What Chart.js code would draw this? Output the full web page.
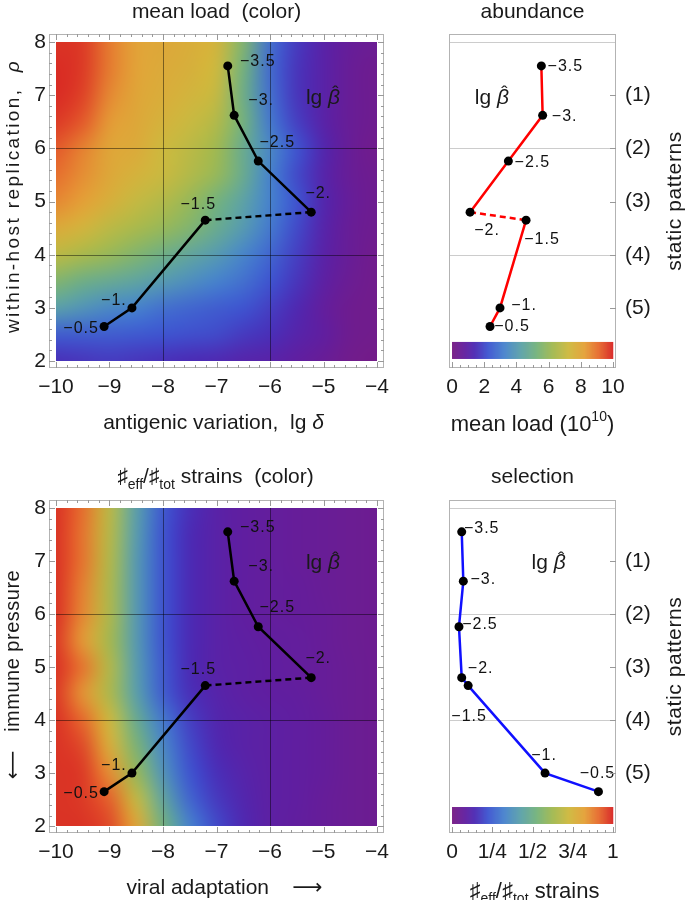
<!DOCTYPE html>
<html>
<head>
<meta charset="utf-8">
<script src="https://cdn.jsdelivr.net/npm/chart.js@4.4.1/dist/chart.umd.min.js"></script>
<style>
  body { margin: 0; background: #fff; }
  #wrap { position: relative; width: 685px; height: 900px; }
  canvas { position: absolute; }
</style>
</head>
<body>
<div id="wrap">
  <canvas id="load-map" width="410" height="440" style="left:0;top:0"></canvas>
  <canvas id="load-line" width="275" height="440" style="left:410px;top:0"></canvas>
  <canvas id="frac-map" width="410" height="460" style="left:0;top:440px"></canvas>
  <canvas id="frac-line" width="275" height="460" style="left:410px;top:440px"></canvas>
</div>
<script>
// points along the lg beta-hat path
const betaLabels = ['−3.5', '−3.', '−2.5', '−2.', '−1.5', '−1.', '−0.5'];
const lgDelta = [-6.79, -6.67, -6.22, -5.23, -7.21, -8.58, -9.10];
const rho = [7.55, 6.62, 5.76, 4.80, 4.65, 3.00, 2.65];
const meanLoad = [5.55, 5.63, 3.50, 1.12, 4.60, 2.98, 2.36];
const effFraction = [0.06, 0.07, 0.043, 0.06, 0.10, 0.578, 0.91];

// tick values / labels
const xTicks = [-10, -9, -8, -7, -6, -5, -4];
const yTicks = [2, 3, 4, 5, 6, 7, 8];
const loadTicks = [0, 2, 4, 6, 8, 10];
const fracTicks = [0, 0.25, 0.5, 0.75, 1];
const fracTickLabels = ['0', '1/4', '1/2', '3/4', '1'];
const patternRho = [7, 6, 5, 4, 3];
const patternLabels = ['(1)', '(2)', '(3)', '(4)', '(5)'];

// background maps, rows from rho = 8 (top) down to rho = 2
const gridX = [-10, -9.5, -9, -8.5, -8, -7.5, -7, -6.5, -6, -5.5, -5, -4.5, -4];
const gridY = [8, 7.5, 7, 6.5, 6, 5.5, 5, 4.5, 4, 3.5, 3, 2.5, 2];
// mean load (10^10)
const loadGrid = [
  [9.8, 9.7, 8.8, 8.1, 7.9, 7.7, 7.4, 5.5, 2.8, 1.7, 1.0, 0.6, 0.4],
  [9.9, 9.7, 8.8, 8.1, 7.8, 7.6, 7.2, 5.2, 2.7, 1.6, 1.0, 0.5, 0.3],
  [9.9, 9.6, 8.6, 8.0, 7.7, 7.4, 7.0, 5.0, 2.8, 1.6, 1.0, 0.5, 0.3],
  [9.7, 9.3, 8.3, 7.9, 7.5, 7.1, 6.6, 5.2, 3.0, 1.8, 1.0, 0.5, 0.3],
  [9.3, 8.7, 8.0, 7.8, 7.2, 6.8, 6.2, 4.8, 3.4, 2.2, 1.2, 0.5, 0.2],
  [9.0, 8.5, 7.9, 7.5, 7.1, 6.6, 6.0, 4.8, 3.2, 2.0, 1.1, 0.5, 0.3],
  [8.6, 8.2, 7.6, 7.0, 6.6, 6.0, 5.2, 4.3, 3.2, 2.2, 1.2, 0.6, 0.3],
  [7.8, 7.4, 6.8, 6.4, 6.0, 5.5, 4.8, 4.0, 3.0, 2.0, 1.1, 0.5, 0.3],
  [6.8, 6.4, 6.0, 5.5, 5.0, 4.5, 4.0, 3.3, 2.6, 1.8, 1.0, 0.5, 0.2],
  [5.5, 5.0, 4.7, 4.4, 4.0, 3.6, 3.2, 2.8, 2.2, 1.6, 0.9, 0.4, 0.2],
  [4.2, 3.8, 3.4, 3.2, 2.8, 2.6, 2.4, 2.2, 1.8, 1.3, 0.7, 0.3, 0.2],
  [2.4, 2.4, 2.4, 2.3, 2.2, 2.1, 2.0, 1.7, 1.5, 1.1, 0.8, 0.3, 0.2],
  [1.5, 1.6, 1.7, 1.6, 1.5, 1.4, 1.3, 1.1, 1.0, 0.8, 0.5, 0.2, 0.1]
];
// effective / total strains
const fracGrid = [
  [0.98, 0.90, 0.68, 0.42, 0.23, 0.15, 0.10, 0.08, 0.07, 0.06, 0.05, 0.04, 0.035],
  [0.98, 0.89, 0.67, 0.41, 0.22, 0.14, 0.10, 0.08, 0.07, 0.06, 0.05, 0.04, 0.035],
  [0.98, 0.89, 0.66, 0.40, 0.22, 0.14, 0.10, 0.08, 0.07, 0.06, 0.05, 0.04, 0.035],
  [0.98, 0.87, 0.65, 0.40, 0.22, 0.14, 0.10, 0.08, 0.07, 0.065, 0.05, 0.04, 0.035],
  [0.98, 0.86, 0.65, 0.40, 0.22, 0.14, 0.10, 0.08, 0.07, 0.065, 0.055, 0.04, 0.035],
  [0.97, 0.83, 0.63, 0.40, 0.22, 0.14, 0.10, 0.085, 0.075, 0.07, 0.055, 0.04, 0.035],
  [0.98, 0.89, 0.66, 0.41, 0.23, 0.14, 0.10, 0.09, 0.08, 0.07, 0.06, 0.045, 0.035],
  [0.97, 0.84, 0.65, 0.42, 0.24, 0.15, 0.11, 0.09, 0.08, 0.075, 0.06, 0.045, 0.035],
  [0.98, 0.91, 0.72, 0.48, 0.30, 0.18, 0.12, 0.10, 0.09, 0.08, 0.065, 0.045, 0.035],
  [0.98, 0.95, 0.77, 0.54, 0.34, 0.20, 0.13, 0.10, 0.09, 0.08, 0.065, 0.045, 0.035],
  [0.98, 0.97, 0.85, 0.60, 0.38, 0.22, 0.15, 0.11, 0.09, 0.08, 0.065, 0.045, 0.035],
  [0.98, 0.97, 0.92, 0.70, 0.45, 0.26, 0.17, 0.12, 0.09, 0.08, 0.06, 0.045, 0.035],
  [0.98, 0.98, 0.95, 0.80, 0.52, 0.32, 0.20, 0.13, 0.09, 0.075, 0.06, 0.045, 0.035]
];

// label placement around each point (px), same order as betaLabels
const mapLabelOffsets = [[30, -4], [27, -15], [19, -19], [7, -19], [-7, -16], [-18, -7], [-23, 2]];
const loadLabelOffsets = [[24, 1], [22, 1], [24, 1], [17, 18], [16, 19], [24, -2], [22, 0]];
const fracLabelOffsets = [[20, -3], [20, -2], [21, -2], [19, -9], [1, 31], [-1, -17], [-1, -18]];

const FONT = '"Liberation Sans", "DejaVu Sans", sans-serif';
Chart.defaults.font.family = FONT;
Chart.defaults.color = '#1a1a1a';

// rainbow colour scheme, 0 = purple ... 1 = red
const cmapStops = [
  [0.00, [118, 27, 133]], [0.08, [96, 30, 160]], [0.14, [75, 42, 180]],
  [0.22, [62, 84, 208]], [0.32, [70, 130, 205]], [0.42, [90, 160, 170]],
  [0.52, [115, 178, 125]], [0.62, [160, 185, 80]], [0.72, [205, 185, 62]],
  [0.82, [228, 160, 55]], [0.91, [230, 105, 45]], [1.00, [215, 35, 35]]
];
function cmap(t) {
  t = Math.max(0, Math.min(1, t));
  for (let i = 1; i < cmapStops.length; i++) {
    const [t1, c1] = cmapStops[i];
    const [t0, c0] = cmapStops[i - 1];
    if (t <= t1) {
      const f = (t - t0) / (t1 - t0);
      return c0.map((c, k) => Math.round(c + (c1[k] - c) * f));
    }
  }
  return cmapStops[cmapStops.length - 1][1];
}

function minus(v) { return String(v).replace('-', '−'); }
function steps(a, b, d) {
  const out = [];
  for (let v = a; v <= b + 1e-9; v += d) out.push(+v.toFixed(4));
  return out;
}

function richText(ctx, parts, x, y, size, rotate, spacing) {
  ctx.save();
  ctx.translate(x, y);
  if (rotate) ctx.rotate(-Math.PI / 2);
  ctx.fillStyle = '#1a1a1a';
  ctx.textBaseline = 'alphabetic';
  ctx.textAlign = 'left';
  ctx.letterSpacing = (spacing || 0) + 'px';
  const fontOf = s => (s === 'i' || s === 'hat' ? 'italic ' : '') +
    Math.round(s === 'sub' || s === 'sup' ? size * 0.65 : size) + 'px ' + FONT;
  let w = 0;
  parts.forEach(([t, s]) => { ctx.font = fontOf(s); w += ctx.measureText(t).width; });
  let cx = -w / 2;
  const base = size * 0.35;
  parts.forEach(([t, s]) => {
    ctx.font = fontOf(s);
    const tw = ctx.measureText(t).width;
    let dy = 0;
    if (s === 'sub') dy = size * 0.25;
    if (s === 'sup') dy = -size * 0.42;
    ctx.fillText(t, cx, base + dy);
    if (s === 'hat') {
      ctx.font = Math.round(size * 0.9) + 'px ' + FONT;
      ctx.textAlign = 'center';
      ctx.fillText('ˆ', cx + tw * 0.62, base - size * 0.22);
      ctx.textAlign = 'left';
    }
    cx += tw;
  });
  ctx.restore();
}

function drawHeat(ctx, x, y, grid, vmax) {
  const ny = grid.length, nx = grid[0].length;
  const off = document.createElement('canvas');
  off.width = nx; off.height = ny;
  const octx = off.getContext('2d');
  const img = octx.createImageData(nx, ny);
  grid.forEach((row, j) => row.forEach((v, i) => {
    const c = cmap(v / vmax);
    const k = (j * nx + i) * 4;
    img.data[k] = c[0]; img.data[k + 1] = c[1]; img.data[k + 2] = c[2]; img.data[k + 3] = 255;
  }));
  octx.putImageData(img, 0, 0);
  const hx = (gridX[1] - gridX[0]) / 2, hy = (gridY[0] - gridY[1]) / 2;
  const x0 = x.getPixelForValue(gridX[0]), x1 = x.getPixelForValue(gridX[nx - 1]);
  const y0 = y.getPixelForValue(gridY[0]), y1 = y.getPixelForValue(gridY[ny - 1]);
  ctx.save();
  ctx.beginPath();
  ctx.rect(x0, y0, x1 - x0, y1 - y0);
  ctx.clip();
  ctx.imageSmoothingEnabled = true;
  ctx.imageSmoothingQuality = 'high';
  const l = x.getPixelForValue(gridX[0] - hx), r = x.getPixelForValue(gridX[nx - 1] + hx);
  const t = y.getPixelForValue(gridY[0] + hy), b = y.getPixelForValue(gridY[ny - 1] - hy);
  ctx.drawImage(off, l, t, r - l, b - t);
  ctx.restore();
}

function hline(ctx, x0, x1, y) { ctx.beginPath(); ctx.moveTo(x0, y); ctx.lineTo(x1, y); ctx.stroke(); }
function vline(ctx, x, y0, y1) { ctx.beginPath(); ctx.moveTo(x, y0); ctx.lineTo(x, y1); ctx.stroke(); }

// heat map, grid lines, frame, labels, titles
function panelDeco(o) {
  return {
    id: 'deco',
    beforeDatasetsDraw(chart) {
      const { ctx, chartArea: a, scales: { x, y } } = chart;
      if (o.heat) drawHeat(ctx, x, y, o.heat, o.vmax);
      ctx.save();
      ctx.lineWidth = 1;
      if (o.darkGrid) {
        ctx.strokeStyle = 'rgba(0,0,0,0.45)';
        const yt = y.getPixelForValue(8), yb = y.getPixelForValue(2);
        const xl = x.getPixelForValue(-10), xr = x.getPixelForValue(-4);
        o.darkGrid.x.forEach(v => vline(ctx, Math.round(x.getPixelForValue(v)) + 0.5, yt, yb));
        o.darkGrid.y.forEach(v => hline(ctx, xl, xr, Math.round(y.getPixelForValue(v)) + 0.5));
      }
      if (o.lightLines) {
        ctx.strokeStyle = '#cccccc';
        o.lightLines.forEach(v => hline(ctx, a.left, a.right, Math.round(y.getPixelForValue(v)) + 0.5));
      }
      if (o.colorbar) {
        const cb = o.colorbar;
        const l = x.getPixelForValue(cb.from), r = x.getPixelForValue(cb.to);
        const t = y.getPixelForValue(cb.top), b = y.getPixelForValue(cb.bottom);
        for (let px = l; px < r; px++) {
          const c = cmap((px - l) / (r - l));
          ctx.fillStyle = `rgb(${c[0]},${c[1]},${c[2]})`;
          ctx.fillRect(px, t, 1.2, b - t);
        }
      }
      ctx.restore();
    },
    afterDatasetsDraw(chart) {
      const { ctx, scales: { x, y } } = chart;
      const meta = chart.getDatasetMeta(0);
      ctx.save();
      ctx.font = '16px ' + FONT;
      ctx.letterSpacing = '1px';
      ctx.textAlign = 'center';
      ctx.textBaseline = 'middle';
      ctx.fillStyle = '#111';
      meta.data.forEach((pt, i) => {
        const [dx, dy] = o.labelOffsets[i];
        ctx.fillText(betaLabels[i], pt.x + dx, pt.y + dy);
      });
      ctx.restore();
      richText(ctx, [['lg ', ''], ['β', 'hat']], x.getPixelForValue(o.note[0]), y.getPixelForValue(o.note[1]), 21);
    },
    afterDraw(chart) {
      const { ctx, chartArea: a, scales: { x, y } } = chart;
      ctx.save();
      ctx.strokeStyle = '#b3b3b3';
      ctx.lineWidth = 1;
      ctx.strokeRect(a.left + 0.5, a.top + 0.5, a.right - a.left - 1, a.bottom - a.top - 1);
      ctx.strokeStyle = '#999';
      const t = o.frameTicks;
      const xt = (vals, len) => vals.forEach(v => {
        const px = Math.round(x.getPixelForValue(v)) + 0.5;
        vline(ctx, px, a.bottom, a.bottom - len);
        if (t.mirror) vline(ctx, px, a.top, a.top + len);
      });
      const yt = (vals, len) => vals.forEach(v => {
        const py = Math.round(y.getPixelForValue(v)) + 0.5;
        hline(ctx, a.right, a.right - len, py);
        if (t.mirror) hline(ctx, a.left, a.left + len, py);
      });
      xt(t.xMinor, 3); xt(t.xMajor, 6);
      yt(t.yMinor, 3); yt(t.yMajor, 6);
      ctx.restore();
      o.texts.forEach(tx => {
        const [px, py] = tx.at(a);
        richText(ctx, tx.parts, px, py, tx.size || 21, tx.rotate, tx.spacing);
      });
    }
  };
}

function xAxis(min, max, ticks, labels, height) {
  return {
    type: 'linear', min, max,
    afterBuildTicks: s => { s.ticks = ticks.map(v => ({ value: v })); },
    afterFit: s => { s.height = height; },
    grid: { display: false, drawTicks: false }, border: { display: false },
    ticks: {
      autoSkip: false, maxRotation: 0, padding: 7, font: { size: 21 },
      callback: (v, i) => labels ? labels[i] : minus(v)
    }
  };
}
function yLeft() {
  return {
    type: 'linear', min: 1.87, max: 8.15,
    afterBuildTicks: s => { s.ticks = yTicks.map(v => ({ value: v })); },
    afterFit: s => { s.width = 49; },
    grid: { display: false, drawTicks: false }, border: { display: false },
    ticks: { autoSkip: false, padding: 3, font: { size: 21 }, callback: v => minus(v) }
  };
}
function yRight() {
  return {
    type: 'linear', position: 'right', min: 1.87, max: 8.15,
    afterBuildTicks: s => { s.ticks = patternRho.map(v => ({ value: v })); },
    afterFit: s => { s.width = 69; },
    grid: { display: false, drawTicks: false }, border: { display: false },
    ticks: { autoSkip: false, padding: 9, font: { size: 21 }, callback: (v, i) => patternLabels[i] }
  };
}

function pathDataset(xs, color, dashed) {
  return {
    data: xs.map((v, i) => ({ x: v, y: rho[i] })),
    showLine: true,
    borderColor: color,
    borderWidth: 2.5,
    pointRadius: 4.5,
    pointBackgroundColor: '#000',
    pointBorderWidth: 0,
    segment: { borderDash: c => (dashed && c.p0DataIndex === 3 ? [6, 4] : undefined) }
  };
}

const baseOptions = {
  responsive: false,
  animation: false,
  plugins: { legend: { display: false }, tooltip: { enabled: false } }
};

const mapTicks = { mirror: true, xMajor: xTicks, xMinor: steps(-10, -4, 0.2), yMajor: yTicks, yMinor: steps(2, 8, 0.2) };

new Chart(document.getElementById('load-map'), {
  type: 'scatter',
  data: { datasets: [pathDataset(lgDelta, '#000', true)] },
  options: {
    ...baseOptions,
    layout: { padding: { top: 34, right: 26, left: 0, bottom: 0 } },
    scales: { x: xAxis(-10.13, -3.87, xTicks, null, 72), y: yLeft() }
  },
  plugins: [panelDeco({
    heat: loadGrid, vmax: 10,
    darkGrid: { x: [-8, -6], y: [4, 6] },
    labelOffsets: mapLabelOffsets, note: [-5.01, 6.97],
    frameTicks: mapTicks,
    texts: [
      { parts: [['mean load  (color)', '']], at: a => [(a.left + a.right) / 2, a.top - 23] },
      { parts: [['antigenic variation,  lg ', ''], ['δ', 'i']], at: a => [(a.left + a.right) / 2 - 3, a.bottom + 54] },
      { parts: [['within-host replication,  ', ''], ['ρ', 'i']], rotate: true, size: 19, spacing: 2.4, at: a => [a.left - 37, a.top + 162] }
    ]
  })]
});

new Chart(document.getElementById('load-line'), {
  type: 'scatter',
  data: { datasets: [pathDataset(meanLoad, '#ff0000', true)] },
  options: {
    ...baseOptions,
    layout: { padding: { top: 34, right: 0, left: 39, bottom: 0 } },
    scales: { x: xAxis(-0.19, 10.19, loadTicks, null, 72), y: yRight() }
  },
  plugins: [panelDeco({
    lightLines: [8, 6, 4],
    colorbar: { from: 0, to: 10, top: 2.36, bottom: 2.04 },
    labelOffsets: loadLabelOffsets, note: [2.48, 6.97],
    frameTicks: { xMajor: loadTicks, xMinor: steps(0, 10, 0.5), yMajor: patternRho, yMinor: [] },
    texts: [
      { parts: [['abundance', '']], at: a => [(a.left + a.right) / 2, a.top - 23] },
      { parts: [['mean load (10', ''], ['10', 'sup'], [')', '']], size: 22, at: a => [(a.left + a.right) / 2, a.bottom + 55] },
      { parts: [['static patterns', '']], rotate: true, spacing: 0.6, at: a => [a.right + 58, (a.top + a.bottom) / 2] }
    ]
  })]
});

new Chart(document.getElementById('frac-map'), {
  type: 'scatter',
  data: { datasets: [pathDataset(lgDelta, '#000', true)] },
  options: {
    ...baseOptions,
    layout: { padding: { top: 60, right: 26, left: 0, bottom: 0 } },
    scales: { x: xAxis(-10.13, -3.87, xTicks, null, 67), y: yLeft() }
  },
  plugins: [panelDeco({
    heat: fracGrid, vmax: 1,
    darkGrid: { x: [-8, -6], y: [4, 6] },
    labelOffsets: mapLabelOffsets, note: [-5.01, 6.98],
    frameTicks: mapTicks,
    texts: [
      { parts: [['♯', ''], ['eff', 'sub'], ['/♯', ''], ['tot', 'sub'], [' strains  (color)', '']], at: a => [(a.left + a.right) / 2 - 1, a.top - 24] },
      { parts: [['viral adaptation    ⟶', '']], at: a => [(a.left + a.right) / 2 + 8, a.bottom + 54] },
      { parts: [['⟵   immune pressure', '']], rotate: true, size: 20, spacing: 0.5, at: a => [a.left - 37, (a.top + a.bottom) / 2 + 8] }
    ]
  })]
});

new Chart(document.getElementById('frac-line'), {
  type: 'scatter',
  data: { datasets: [pathDataset(effFraction, '#1010ff', false)] },
  options: {
    ...baseOptions,
    layout: { padding: { top: 60, right: 0, left: 39, bottom: 0 } },
    scales: { x: xAxis(-0.019, 1.019, fracTicks, fracTickLabels, 67), y: yRight() }
  },
  plugins: [panelDeco({
    lightLines: [8, 6, 4],
    colorbar: { from: 0, to: 1, top: 2.36, bottom: 2.04 },
    labelOffsets: fracLabelOffsets, note: [0.60, 6.98],
    frameTicks: { xMajor: fracTicks, xMinor: steps(0, 1, 0.05), yMajor: patternRho, yMinor: [] },
    texts: [
      { parts: [['selection', '']], at: a => [(a.left + a.right) / 2, a.top - 24] },
      { parts: [['♯', ''], ['eff', 'sub'], ['/♯', ''], ['tot', 'sub'], [' strains', '']], size: 22, at: a => [(a.left + a.right) / 2 + 2, a.bottom + 57] },
      { parts: [['static patterns', '']], rotate: true, spacing: 0.6, at: a => [a.right + 58, (a.top + a.bottom) / 2] }
    ]
  })]
});
</script>
</body>
</html>
